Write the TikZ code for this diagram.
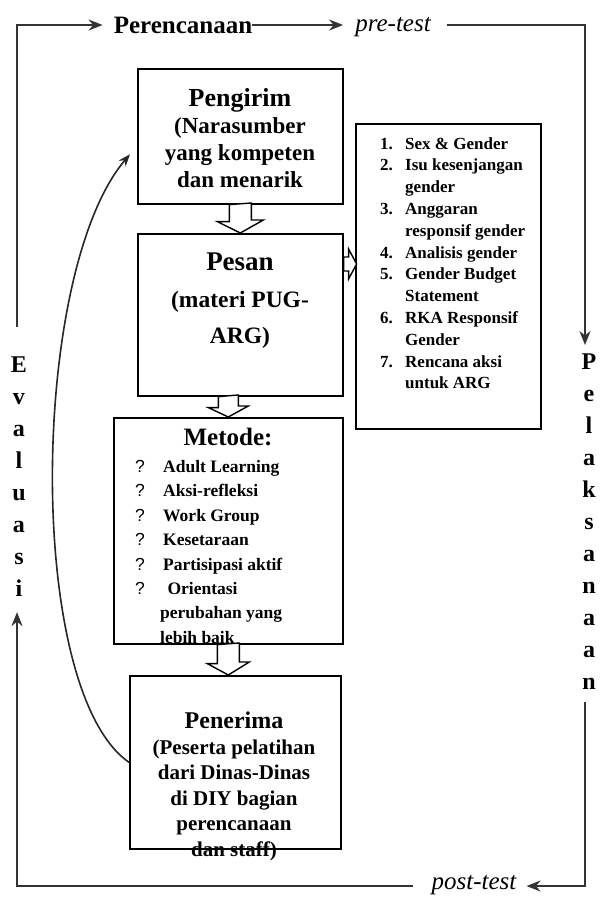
\documentclass[tikz,border=0pt]{standalone}
\usepackage{fontspec}
\setmainfont{Liberation Serif}
\newfontfamily\tandafont{Liberation Sans}
\usetikzlibrary{positioning, arrows.meta}
\tikzset{
	x=1pt, y=-1pt, % satu satuan = satu piksel, sumbu y ke bawah
	>={Stealth[length=14pt, width=11pt]}, % ujung panah tebal
	alur/.style={line width=1.8pt, draw=black!80}, % garis siklus luar
	kotak/.style={draw, line width=1.6pt, anchor=north west, inner sep=0pt}, % kotak isi
	blok/.style={draw, line width=1.4pt, fill=white, line join=miter}, % panah blok
	lengkung/.style={line width=1.6pt, draw=black!85, -{Stealth[length=12pt, width=9pt]}}, % panah balik
	judul/.style={inner sep=0pt, font=\bfseries\fontsize{25}{25}\selectfont}, % teks di garis atas
	miring/.style={inner sep=0pt, font=\itshape\fontsize{25}{25}\selectfont}, % pre-test, post-test
	huruf/.style={align=center, inner sep=0pt, font=\bfseries\fontsize{24}{32}\selectfont}, % teks tegak
	isi/.style={align=center, inner sep=0pt, anchor=north}, % isi kotak
	daftar/.style={align=left, inner sep=0pt, anchor=north west} % daftar butir
}
\newcommand{\tanda}{\makebox[28pt][l]{\tandafont\mdseries ?}}
\newcommand{\nomor}[1]{\makebox[25pt][l]{#1}}

\begin{document}
\begin{tikzpicture}
	\useasboundingbox (0,0) rectangle (606,897);

	% kotak
	\node[kotak, minimum width=205pt, minimum height=135pt] (pengirim) at (137,68) {};
	\node[kotak, minimum width=205pt, minimum height=162pt] (pesan) at (137,233) {};
	\node[kotak, minimum width=185pt, minimum height=305pt] (materi) at (355,123) {};
	\node[kotak, minimum width=229pt, minimum height=226pt] (metode) at (113,417) {};
	\node[kotak, minimum width=211pt, minimum height=173pt] (penerima) at (129,675) {};

	% isi kotak
	\node[isi, font=\bfseries\fontsize{23}{27}\selectfont] (tekspengirim) at (240,88)
		{{\fontsize{26}{27}\selectfont Pengirim}\\(Narasumber\\yang kompeten\\dan menarik};
	\node[isi, font=\bfseries\fontsize{23.5}{36.5}\selectfont] (tekspesan) at (240,253)
		{{\fontsize{27}{36.5}\selectfont Pesan}\\(materi PUG-\\ARG)};
	\node[daftar, font=\bfseries\fontsize{17}{21.8}\selectfont] (teksmateri) at (380,137) {
		\nomor{1.}Sex \& Gender\\
		\nomor{2.}Isu kesenjangan\\
		\hspace*{25pt}gender\\
		\nomor{3.}Anggaran\\
		\hspace*{25pt}responsif gender\\
		\nomor{4.}Analisis gender\\
		\nomor{5.}Gender Budget\\
		\hspace*{25pt}Statement\\
		\nomor{6.}RKA Responsif\\
		\hspace*{25pt}Gender\\
		\nomor{7.}Rencana aksi\\
		\hspace*{25pt}untuk ARG};
	\node[isi, font=\bfseries\fontsize{25}{25}\selectfont] (judulmetode) at (228,428) {Metode:};
	\node[daftar, font=\bfseries\fontsize{17.5}{24.4}\selectfont] (teksmetode) at (135,460) {
		\tanda Adult Learning\\
		\tanda Aksi-refleksi\\
		\tanda Work Group\\
		\tanda Kesetaraan\\
		\tanda Partisipasi aktif\\
		\tanda\ Orientasi\\
		\hspace*{25pt}perubahan yang\\
		\hspace*{25pt}lebih baik};
	\node[isi, font=\bfseries\fontsize{21}{25.5}\selectfont] (tekspenerima) at (234,712)
		{{\fontsize{24}{25.5}\selectfont Penerima}\\(Peserta pelatihan\\dari Dinas-Dinas\\di DIY bagian\\perencanaan\\dan staff)};

	% panah blok
	\coordinate (panah2) at (metode.north |- pesan.south);
	\coordinate (panah3) at (metode.south |- penerima.north);
	\draw[blok] ([xshift=-11pt]pengirim.south) -- ++(0,17) -- ++(-12,0) -- (pengirim.south |- pesan.north)
		-- ++(23,-13) -- ++(-12,0) -- ++(0,-17) -- cycle;
	\draw[blok] ([xshift=-10pt]panah2) -- ++(0,11) -- ++(-10,0) -- (metode.north)
		-- ++(20,-11) -- ++(-10,0) -- ++(0,-11) -- cycle;
	\draw[blok] ([xshift=-11pt]metode.south) -- ++(0,19) -- ++(-10,0) -- (panah3)
		-- ++(21,-13) -- ++(-10,0) -- ++(0,-19) -- cycle;
	\draw[blok] ([yshift=-24pt]pesan.north east) -- ++(5,0) -- ++(0,-8) -- ++(8,15)
		-- ++(-8,15) -- ++(0,-8) -- ++(-5,0) -- cycle;

	% siklus luar
	\coordinate (kiriatas) at (17,25);
	\coordinate (kananatas) at (585,25);
	\coordinate (kiribawah) at (17,886);
	\coordinate (kananbawah) at (585,886);
	\node[judul, anchor=base] (perencanaan) at (183,33) {Perencanaan};
	\node[miring, anchor=base] (pretest) at (393,31) {pre-test};
	\node[miring, anchor=base] (posttest) at (474,889) {post-test};
	\node[huruf, anchor=north] (evaluasi) at (19,357) {E\\v\\a\\l\\u\\a\\s\\i};
	\node[huruf, anchor=north] (pelaksanaan) at (589,354) {P\\e\\l\\a\\k\\s\\a\\n\\a\\a\\n};

	\draw[alur, ->, shorten <=30pt, shorten >=11pt] (kiriatas |- evaluasi.north) -- (kiriatas)
		-- (kiriatas -| perencanaan.west);
	\draw[alur, ->, shorten >=12pt] (kiriatas -| perencanaan.east) -- (kiriatas -| pretest.west);
	\draw[alur, ->, shorten <=16pt, shorten >=9pt] (kiriatas -| pretest.east) -- (kananatas)
		-- (kananatas |- pelaksanaan.north);
	\draw[alur, ->, shorten <=12pt, shorten >=10pt] (kananatas |- pelaksanaan.south) -- (kananbawah)
		-- (kananbawah -| posttest.east);
	\draw[alur, ->, shorten <=18pt, shorten >=15pt] (kiribawah -| posttest.west) -- (kiribawah)
		-- (kiribawah |- evaluasi.south);

	% panah balik
	\draw[lengkung] (penerima.west) .. controls +(-104,-72) and +(-100,117)
		.. ([xshift=-7pt, yshift=-18pt]pengirim.west);
\end{tikzpicture}
\end{document}
